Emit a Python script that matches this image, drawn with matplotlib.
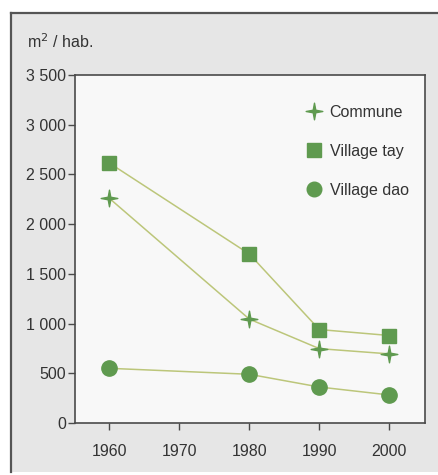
import matplotlib
matplotlib.use("Agg")
import matplotlib.pyplot as plt
from matplotlib.path import Path
from matplotlib.patches import Rectangle
from matplotlib.lines import Line2D
import numpy as np

years = [1960, 1980, 1990, 2000]
commune = [2260, 1045, 748, 695]
village_tay = [2615, 1700, 940, 880]
village_dao = [550, 490, 362, 282]
yticks = [0, 500, 1000, 1500, 2000, 2500, 3000, 3500]
ytick_labels = ["0", "500", "1 000", "1 500", "2 000", "2 500", "3 000", "3 500"]
xticks = [1960, 1970, 1980, 1990, 2000]

plt.rcParams['font.family'] = ['Liberation Sans', 'DejaVu Sans']

# 4-point star marker
r_in = 0.22
verts = []
for k in range(8):
    ang = np.pi / 2 + k * np.pi / 4
    r = 1.0 if k % 2 == 0 else r_in
    verts.append((r * np.cos(ang), r * np.sin(ang)))
verts.append(verts[0])
codes = [Path.MOVETO] + [Path.LINETO] * 7 + [Path.CLOSEPOLY]
star = Path(verts, codes)

mcol = '#5f9a4f'
lcol = '#bcc67a'
tcol = '#333333'
fs = 11.5
W, H = 438, 475
fig = plt.figure(figsize=(W / 100, H / 100), dpi=100)
fig.patch.set_facecolor('white')

# outer gray panel
bg = Rectangle((11 / W, 1 - 472 / H), (W - 11) / W, (472 - 13) / H,
               transform=fig.transFigure, facecolor='#e6e6e6', edgecolor='none', zorder=-5)
fig.patches.append(bg)
fig.add_artist(Line2D([11 / W, 11 / W], [1 - 472 / H, 1 - 13 / H], color='#555555', lw=1.6,
                      transform=fig.transFigure, zorder=-4))
fig.add_artist(Line2D([11 / W, 1], [1 - 13 / H, 1 - 13 / H], color='#555555', lw=1.6,
                      transform=fig.transFigure, zorder=-4))

ax = fig.add_axes([75 / W, 1 - 423 / H, 350 / W, 348 / H])
ax.set_facecolor('#f8f8f8')

ax.plot(years, commune, color=lcol, lw=1.1, marker=star, ms=12, mfc=mcol, mec=mcol, zorder=3)
ax.plot(years, village_tay, color=lcol, lw=1.1, marker='s', ms=10.5, mfc=mcol, mec=mcol, zorder=3)
ax.plot(years, village_dao, color=lcol, lw=1.1, marker='o', ms=11, mfc=mcol, mec=mcol, zorder=3)

ax.set_xlim(1955.1, 2005.1)
ax.set_ylim(0, 3500)
ax.set_yticks(yticks)
ax.set_yticklabels(ytick_labels)
ax.set_xticks(xticks)
for s in ax.spines.values():
    s.set_color('#4a4a4a')
    s.set_linewidth(1.2)
ax.tick_params(direction='out', length=5, width=1, color='#4a4a4a', labelcolor=tcol,
               labelsize=fs, pad=1.5)
ax.tick_params(axis='x', pad=10)

fig.text(27 / W, 1 - 42 / H, "m$^{2}$ / hab.", fontsize=fs, color=tcol, va='center', ha='left')

handles = [
    Line2D([], [], ls='none', marker=star, ms=12, mfc=mcol, mec=mcol),
    Line2D([], [], ls='none', marker='s', ms=10, mfc=mcol, mec=mcol),
    Line2D([], [], ls='none', marker='o', ms=10.5, mfc=mcol, mec=mcol),
]
leg = ax.legend(handles, ["Commune", "Village tay", "Village dao"], loc='upper left',
                bbox_to_anchor=(297 / W, 1 - 97 / H), bbox_transform=fig.transFigure,
                frameon=False, fontsize=fs, labelspacing=1.5, handletextpad=0.45,
                handlelength=1.1, borderpad=0)
for t in leg.get_texts():
    t.set_color(tcol)

fig.savefig("out.png", dpi=100)
